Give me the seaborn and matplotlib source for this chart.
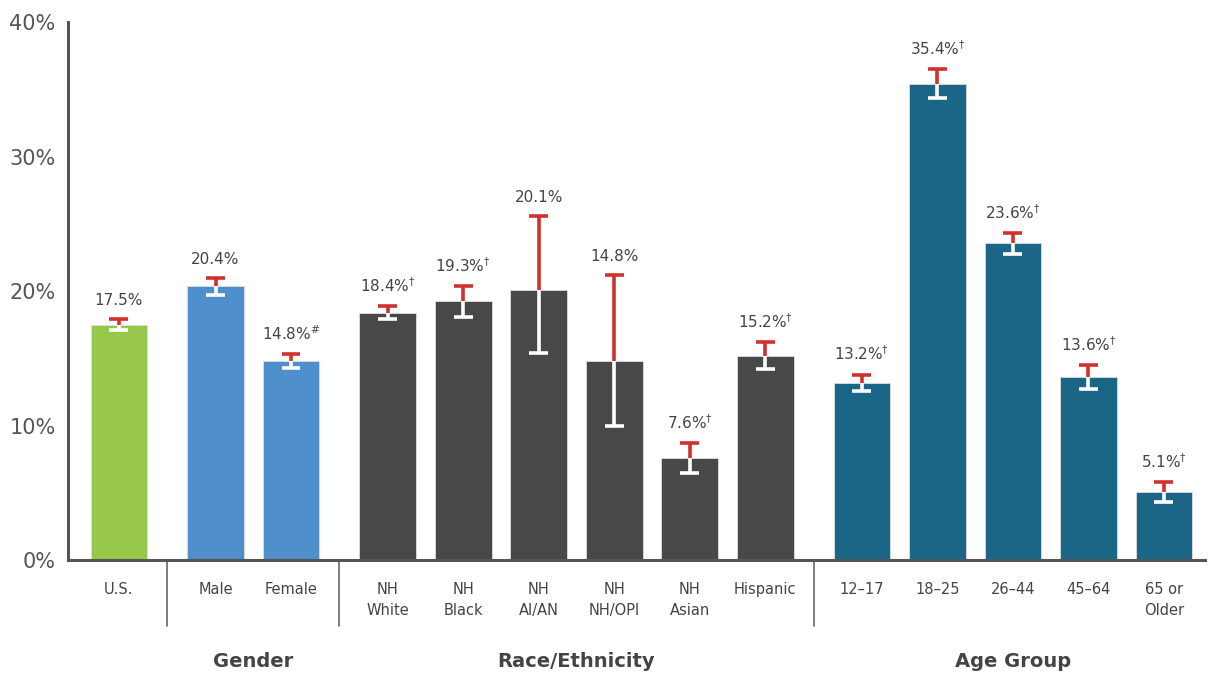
import matplotlib
matplotlib.use("Agg")
import matplotlib.pyplot as plt
import matplotlib.transforms as mtransforms
import seaborn as sns
import pandas as pd
import numpy as np

# ---- data ----
categories = ["U.S.", "Male", "Female", "NH\nWhite", "NH\nBlack", "NH\nAI/AN",
              "NH\nNH/OPI", "NH\nAsian", "Hispanic", "12–17", "18–25", "26–44",
              "45–64", "65 or\nOlder"]
groups = ["Total", "Gender", "Gender", "Race", "Race", "Race", "Race", "Race", "Race",
          "Age", "Age", "Age", "Age", "Age"]
values = [17.5, 20.4, 14.8, 18.4, 19.3, 20.1, 14.8, 7.6, 15.2, 13.2, 35.4, 23.6, 13.6, 5.1]
ci_low = [17.1, 19.7, 14.3, 17.9, 18.1, 15.4, 10.0, 6.5, 14.2, 12.6, 34.4, 22.8, 12.7, 4.3]
ci_high = [17.9, 21.0, 15.3, 18.9, 20.4, 25.6, 21.2, 8.7, 16.2, 13.8, 36.5, 24.3, 14.5, 5.8]
marks = ["", "", "#", "†", "†", "", "", "†", "†", "†", "†", "†", "†", "†"]
group_titles = ["Gender", "Race/Ethnicity", "Age Group"]
group_keys = ["Gender", "Race", "Age"]
y_ticks = [0, 10, 20, 30, 40]

palette = {"Total": "#97C84C", "Gender": "#4F8FCB", "Race": "#484848", "Age": "#1B6687"}
red = "#D0312D"
txt = "#444444"

# positions: unit spacing within groups, extra gap between groups
gap = 0.28
pos = []
x = 0.0
prev = None
for g in groups:
    if prev is not None:
        x += 1.0 + (gap if g != prev else 0.0)
    pos.append(x)
    prev = g
pos = np.array(pos)

df = pd.DataFrame({"pos": pos, "value": values, "group": groups})

sns.set_theme(style="white")
plt.rcParams["font.family"] = ["DejaVu Sans"]

fig = plt.figure(figsize=(12.09, 6.74), dpi=100)
ax = fig.add_axes([0.0562, 0.169, 0.9408, 0.798])

sns.barplot(data=df, x="pos", y="value", hue="group", palette=palette,
            native_scale=True, dodge=False, width=0.75, legend=False,
            errorbar=None, ax=ax, edgecolor="#DDDDDD", linewidth=0.6, saturation=1)

vals = np.array(values)
lo = np.array(ci_low)
hi = np.array(ci_high)
cw = 0.125
lw = 2.6
ax.vlines(pos, vals, hi, color=red, lw=lw, zorder=3)
ax.hlines(hi, pos - cw, pos + cw, color=red, lw=lw, zorder=3)
ax.vlines(pos, lo, vals, color="white", lw=lw, zorder=3)
ax.hlines(lo, pos - cw, pos + cw, color="white", lw=lw, zorder=3)

for p, v, h, m in zip(pos, values, ci_high, marks):
    label = f"{v:.1f}%" + (r"$^{\#}$" if m == "#" else (r"$^{\dagger}$" if m else ""))
    ax.annotate(label, (p, h), xytext=(0, 8), textcoords="offset points",
                ha="center", va="bottom", fontsize=11, color=txt)

ax.set_xlim(pos[0] - 0.675, pos[-1] + 0.55)
ax.set_ylim(0, 40)
ax.set_yticks(y_ticks)
ax.set_yticklabels([f"{t}%" for t in y_ticks], fontsize=15, color="#555555")
ax.set_xticks(pos)
ax.set_xticklabels(categories, fontsize=10.5, color=txt, linespacing=1.45, va="top")
ax.tick_params(axis="both", length=0)
ax.tick_params(axis="x", pad=16)
ax.tick_params(axis="y", pad=9)
ax.set_xlabel("")
ax.set_ylabel("")

for s in ["top", "right"]:
    ax.spines[s].set_visible(False)
for s in ["left", "bottom"]:
    ax.spines[s].set_color("#555555")
    ax.spines[s].set_linewidth(2.2)

# group separators and titles
trans = mtransforms.blended_transform_factory(ax.transData, ax.transAxes)
gidx = np.array(groups)
boundaries = [i for i in range(1, len(groups)) if groups[i] != groups[i - 1]]
for i in boundaries:
    xm = (pos[i - 1] + pos[i]) / 2
    ax.plot([xm, xm], [0, -0.122], color="#666666", lw=1.2, transform=trans, clip_on=False)
for key, title in zip(group_keys, group_titles):
    ps = pos[gidx == key]
    ax.text(ps.mean(), -0.188, title, transform=trans, ha="center", va="center",
            fontsize=14, fontweight="bold", color="#444444")

fig.savefig("out.png", dpi=100)
